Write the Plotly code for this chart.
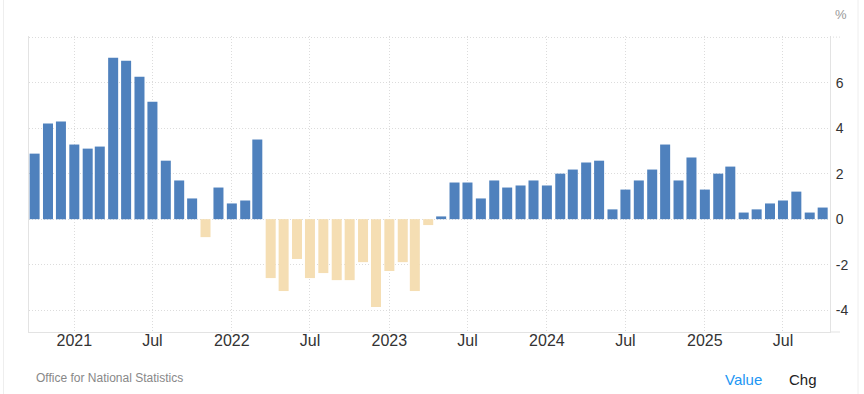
import plotly.graph_objects as go
import pandas as pd

# ---- data ----
months = pd.date_range("2020-10-01", "2025-10-01", freq="MS").strftime("%Y-%m-%d").tolist()
values = [
    2.88, 4.20, 4.29,
    3.28, 3.10, 3.19, 7.09, 6.96, 6.26, 5.16, 2.57, 1.70, 0.91, -0.79, 1.39,
    0.69, 0.82, 3.50, -2.59, -3.16, -1.75, -2.59, -2.37, -2.68, -2.68, -1.89, -3.86,
    -2.28, -1.89, -3.16, -0.26, 0.12, 1.61, 1.61, 0.91, 1.70, 1.39, 1.48, 1.70,
    1.48, 2.00, 2.18, 2.49, 2.57, 0.43, 1.30, 1.70, 2.18, 3.28, 1.70, 2.71,
    1.30, 2.00, 2.31, 0.29, 0.43, 0.69, 0.82, 1.21, 0.29, 0.51,
]
x_tick_vals = ["2021-01-01", "2021-07-01", "2022-01-01", "2022-07-01", "2023-01-01",
               "2023-07-01", "2024-01-01", "2024-07-01", "2025-01-01", "2025-07-01"]
x_tick_text = ["2021", "Jul", "2022", "Jul", "2023", "Jul", "2024", "Jul", "2025", "Jul"]
y_tick_vals = [-4, -2, 0, 2, 4, 6, 8]
y_tick_text = ["-4", "-2", "0", "2", "4", "6", ""]

POS = "#4F81BD"
NEG = "#F5DEB3"
FONT = "Liberation Sans, Arial, sans-serif"
GRID = "#dcdcdc"
LINE = "#e3e3e3"
DOT = "1px,2px"

colors = [POS if v >= 0 else NEG for v in values]
bar_w = 23.2 * 86400000

fig = go.Figure(go.Bar(
    x=months, y=values, marker=dict(color=colors, line=dict(width=0)),
    width=[bar_w] * len(values), hoverinfo="x+y",
))

fig.update_layout(
    width=864, height=394,
    margin=dict(l=29, r=34, t=36, b=62),
    paper_bgcolor="white", plot_bgcolor="white",
    showlegend=False,
    font=dict(family=FONT, color="#333"),
    xaxis=dict(
        type="date", range=["2020-09-18", "2025-10-18"],
        tickmode="array", tickvals=x_tick_vals, ticktext=x_tick_text,
        tickfont=dict(size=16, color="#333", family=FONT),
        showgrid=True, gridcolor=GRID, griddash=DOT, gridwidth=1,
        showline=True, linecolor=LINE, linewidth=1,
        ticks="", zeroline=False, ticklabelstandoff=-6,
    ),
    yaxis=dict(
        side="right", range=[-4.96, 8.05],
        tickmode="array", tickvals=y_tick_vals, ticktext=y_tick_text,
        tickfont=dict(size=14, color="#333", family=FONT),
        showgrid=True, gridcolor=GRID, griddash=DOT, gridwidth=1,
        showline=True, linecolor=LINE, linewidth=1, mirror=True,
        ticks="", zeroline=False, ticklabelstandoff=2,
    ),
    shapes=[
        dict(type="line", xref="paper", yref="y", x0=1, x1=1.0125, y0=8, y1=8,
             line=dict(color=GRID, width=1, dash=DOT)),
        dict(type="line", xref="paper", yref="paper", x0=1, x1=1.0125, y0=0, y1=0,
             line=dict(color=LINE, width=1)),
        dict(type="line", xref="paper", yref="paper", x0=-0.0318, x1=-0.0318, y0=-0.215, y1=1.125,
             line=dict(color="#eeeeee", width=1)),
        dict(type="line", xref="paper", yref="paper", x0=1.035, x1=1.035, y0=-0.215, y1=1.125,
             line=dict(color="#eeeeee", width=1)),
    ],
    annotations=[
        dict(text="%", xref="paper", yref="paper", x=1.0037, y=1.071, xanchor="left", yanchor="middle",
             showarrow=False, font=dict(size=13, color="#999", family=FONT)),
        dict(text="Office for National Statistics", xref="paper", yref="paper", x=0.0062, y=-0.155,
             xanchor="left", yanchor="middle", showarrow=False,
             font=dict(size=12, color="#888", family=FONT)),
        dict(text="Value", xref="paper", yref="paper", x=0.866, y=-0.16,
             xanchor="left", yanchor="middle", showarrow=False,
             font=dict(size=15, color="#2196F3", family=FONT)),
        dict(text="Chg", xref="paper", yref="paper", x=0.9466, y=-0.16,
             xanchor="left", yanchor="middle", showarrow=False,
             font=dict(size=15, color="#222", family=FONT)),
    ],
)

fig.write_html(
    "out.html",
    config={"displayModeBar": False},
    post_script="document.body.style.margin='0';document.body.style.overflow='hidden';",
)
